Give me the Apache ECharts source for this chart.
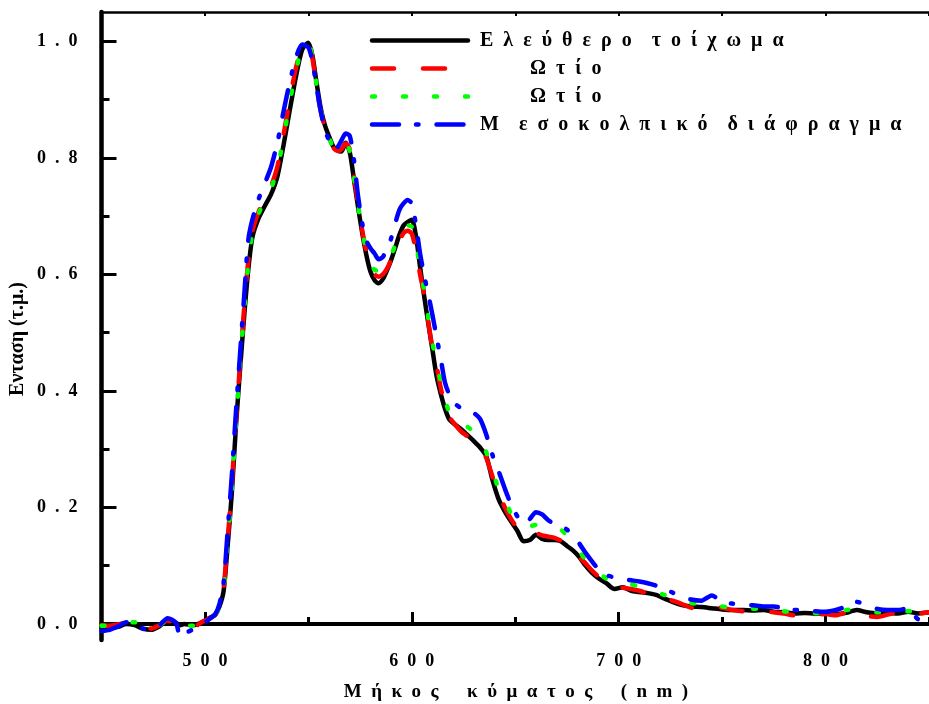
<!DOCTYPE html>
<html>
<head>
<meta charset="utf-8">
<script src="https://cdn.jsdelivr.net/npm/echarts@6/dist/echarts.min.js"></script>
<style>
  html, body { margin: 0; padding: 0; background: #ffffff; }
  #chart { width: 929px; height: 704px; }
</style>
</head>
<body>
<div id="chart"></div>
<script>
// Wavelength grid (nm) shared by the four emission spectra
const wavelength = [
  450,454,458,462,466,470,474,478,482,486,488,
  490,494,498,502,505,507,509,
  511,513,515,517,519,521,523,
  526,529,532,535,538,541,544,547,
  550,552,554,556,558,560,562,564,566,568,570,572,574,576,578,580,582,584,586,588,590,592,594,596,598,600,
  602,604,606,608,610,612,614,616,618,
  621,624,627,630,633,636,639,642,645,648,651,654,657,660,663,666,669,672,675,678,681,684,687,690,
  694,698,702,706,710,714,718,722,726,730,
  735,740,745,750,755,760,765,770,775,780,785,790,795,800,805,810,815,820,825,830,835,840,845,850
];

// Normalised intensity (a.u.) per tissue
const freeWall = [
  -0.005,-0.007,-0.005,0.000,-0.002,-0.008,-0.010,-0.004,0.006,0.002,-0.002,
  0.000,-0.002,0.002,0.010,0.016,0.030,0.056,
  0.135,0.225,0.340,0.438,0.530,0.610,0.665,
  0.697,0.718,0.738,0.768,0.822,0.882,0.940,0.986,
  0.998,0.975,0.928,0.885,0.856,0.837,0.820,0.813,0.811,0.826,0.810,0.764,0.716,0.672,0.634,0.605,0.590,0.585,0.592,0.607,0.625,0.646,0.668,0.684,0.690,0.694,
  0.666,0.613,0.562,0.515,0.470,0.425,0.395,0.370,0.352,
  0.342,0.334,0.324,0.314,0.303,0.288,0.247,0.214,0.193,0.176,0.160,0.142,0.144,0.153,0.146,0.144,0.144,0.142,0.134,0.126,0.115,0.100,0.088,0.079,
  0.070,0.060,0.063,0.057,0.055,0.053,0.050,0.044,0.038,0.033,
  0.030,0.029,0.027,0.025,0.024,0.024,0.023,0.024,0.021,0.020,0.018,0.019,0.018,0.018,0.017,0.019,0.024,0.020,0.018,0.019,0.018,0.021,0.018,0.020
];
const auricleA = [
  -0.002,-0.003,-0.001,0.003,0.004,-0.004,-0.008,-0.002,0.006,0.000,-0.002,
  -0.003,-0.006,0.002,0.009,0.016,0.032,0.062,
  0.145,0.240,0.350,0.448,0.545,0.625,0.675,
  0.708,0.730,0.752,0.785,0.840,0.900,0.955,0.990,
  0.996,0.970,0.920,0.880,0.852,0.832,0.818,0.812,0.815,0.825,0.815,0.770,0.722,0.676,0.640,0.612,0.600,0.596,0.600,0.610,0.625,0.642,0.658,0.671,0.675,0.670,
  0.640,0.600,0.565,0.518,0.472,0.442,0.405,0.375,0.356,
  0.342,0.330,0.322,0.312,0.303,0.285,0.253,0.225,0.200,0.180,0.165,0.156,0.155,0.156,0.152,0.150,0.148,0.143,0.137,0.128,0.115,0.104,0.092,0.082,
  0.073,0.066,0.062,0.060,0.057,0.052,0.046,0.045,0.040,0.035,
  0.028,0.026,0.030,0.028,0.024,0.022,0.024,0.022,0.020,0.018,0.015,0.017,0.016,0.017,0.015,0.020,0.022,0.014,0.012,0.016,0.020,0.017,0.018,0.020
];
const auricleB = [
  -0.003,-0.003,0.000,0.002,0.003,-0.005,-0.008,-0.002,0.006,0.002,-0.001,
  -0.002,-0.003,0.002,0.009,0.016,0.031,0.060,
  0.140,0.232,0.345,0.445,0.540,0.620,0.672,
  0.705,0.725,0.748,0.780,0.835,0.895,0.950,0.988,
  0.997,0.972,0.925,0.882,0.855,0.835,0.818,0.812,0.813,0.825,0.812,0.768,0.720,0.676,0.642,0.618,0.608,0.606,0.610,0.620,0.633,0.650,0.666,0.678,0.684,0.682,
  0.655,0.610,0.572,0.525,0.482,0.448,0.415,0.385,0.365,
  0.350,0.342,0.338,0.330,0.318,0.295,0.262,0.232,0.212,0.190,0.178,0.170,0.168,0.170,0.170,0.167,0.165,0.162,0.152,0.140,0.125,0.110,0.098,0.088,
  0.078,0.070,0.070,0.068,0.064,0.060,0.055,0.050,0.046,0.040,
  0.036,0.034,0.033,0.030,0.028,0.027,0.026,0.026,0.024,0.022,0.020,0.020,0.019,0.019,0.020,0.024,0.026,0.022,0.020,0.021,0.022,0.022,0.020,0.022
];
const septum = [
  -0.012,-0.010,-0.004,0.003,0.002,-0.008,-0.010,-0.002,0.010,0.002,-0.022,
  -0.016,-0.010,-0.002,0.008,0.017,0.034,0.070,
  0.160,0.255,0.365,0.465,0.565,0.660,0.695,
  0.730,0.757,0.785,0.826,0.880,0.930,0.972,0.995,
  0.990,0.965,0.920,0.880,0.848,0.830,0.815,0.818,0.830,0.842,0.838,0.797,0.735,0.688,0.658,0.645,0.636,0.626,0.630,0.645,0.662,0.688,0.711,0.722,0.728,0.722,
  0.685,0.636,0.598,0.565,0.530,0.492,0.455,0.415,0.395,
  0.378,0.370,0.366,0.362,0.352,0.325,0.290,0.262,0.232,0.205,0.185,0.172,0.180,0.192,0.188,0.178,0.172,0.168,0.162,0.152,0.138,0.122,0.108,0.095,
  0.084,0.080,0.077,0.075,0.073,0.070,0.066,0.060,0.054,0.048,
  0.042,0.040,0.049,0.038,0.035,0.033,0.032,0.030,0.030,0.027,0.024,0.024,0.022,0.021,0.024,0.030,0.038,0.032,0.026,0.024,0.024,0.027,0.008,0.012
];

// Tick positions
const xMajorTicks = [500, 600, 700, 800];
const xMinorTicks = [550, 650, 750, 850];
const xTopTicks = [500, 550, 600, 650, 700, 750, 800, 850];
const yMajorTicks = [0, 0.2, 0.4, 0.6, 0.8, 1.0];
const yMinorTicks = [0.1, 0.3, 0.5, 0.7, 0.9];

// Letter-spaced typesetting: en space between letters, wider gap between words
const EN = '\u2002';
const spaced = (s, wordGap) => s.split(' ').map(w => w.split('').join(EN)).join(EN.repeat(wordGap));

const seriesNames = [
  spaced('Ελεύθερο τοίχωμα', 2),
  EN.repeat(5) + spaced('Ωτίο', 2),
  EN.repeat(5) + spaced('Ωτίο', 2),
  spaced('Μ εσοκολπικό διάφραγμα', 2)
];
const seriesValues = [freeWall, auricleA, auricleB, septum];
const seriesColors = ['#000000', '#ff0000', '#00ff00', '#0000ff'];
const seriesDash = [null, [22, 29], [3, 28], [27, 17, 2.5, 18]];
const seriesWidth = [4.5, 4.5, 4.5, 4.5];

const FONT = "'Liberation Serif', 'Times New Roman', serif";
const X_MIN = 450, X_MAX = 850, Y_MIN = -0.0275, Y_MAX = 1.0506;

const chart = echarts.init(document.getElementById('chart'), null, { renderer: 'canvas' });

const baseX = { type: 'value', min: X_MIN, max: X_MAX, splitLine: { show: false } };
const baseY = { type: 'value', min: Y_MIN, max: Y_MAX, splitLine: { show: false } };

// Key: sample stroke plus caption for each spectrum
const keyItems = [];
seriesNames.forEach((name, k) => {
  const y = 40.5 + 28 * k;
  keyItems.push({
    type: 'line', z: 10,
    shape: { x1: 372, y1: y, x2: 468, y2: y },
    style: {
      stroke: seriesColors[k], lineWidth: seriesWidth[k],
      lineDash: seriesDash[k], lineCap: 'round'
    }
  });
  keyItems.push({
    type: 'text', z: 10, x: 480, y: y,
    style: {
      text: name, font: 'bold 20px ' + FONT, fill: '#000',
      align: 'left', verticalAlign: 'middle'
    }
  });
});

chart.setOption({
  animation: false,
  backgroundColor: '#ffffff',
  grid: { left: 101.5, right: -8.5, top: 12, bottom: 64, containLabel: false },
  xAxis: [
    Object.assign({}, baseX, {
      position: 'bottom',
      axisLine: { show: true, lineStyle: { color: '#000', width: 4 } },
      axisTick: { show: true, inside: true, length: 12, customValues: xMajorTicks, lineStyle: { color: '#000', width: 3 } },
      axisLabel: {
        customValues: xMajorTicks, margin: 12, color: '#000',
        fontFamily: FONT, fontWeight: 'bold', fontSize: 18,
        formatter: v => String(v).split('').join(EN)
      }
    }),
    Object.assign({}, baseX, {
      position: 'bottom',
      axisLine: { show: false },
      axisTick: { show: true, inside: true, length: 7, customValues: xMinorTicks, lineStyle: { color: '#000', width: 3 } },
      axisLabel: { show: false }
    }),
    Object.assign({}, baseX, {
      position: 'top',
      axisLine: { show: true, lineStyle: { color: '#000', width: 2.5 } },
      axisTick: { show: true, inside: true, length: 4, customValues: xTopTicks, lineStyle: { color: '#000', width: 2 } },
      axisLabel: { show: false }
    })
  ],
  yAxis: [
    Object.assign({}, baseY, {
      position: 'left',
      axisLine: { show: true, lineStyle: { color: '#000', width: 4.5 } },
      axisTick: { show: true, inside: true, length: 15, customValues: yMajorTicks, lineStyle: { color: '#000', width: 3 } },
      axisLabel: {
        customValues: yMajorTicks, margin: 24, color: '#000',
        fontFamily: FONT, fontWeight: 'bold', fontSize: 18,
        formatter: v => v.toFixed(1).split('').join(EN)
      }
    }),
    Object.assign({}, baseY, {
      position: 'left',
      axisLine: { show: false },
      axisTick: { show: true, inside: true, length: 8, customValues: yMinorTicks, lineStyle: { color: '#000', width: 3 } },
      axisLabel: { show: false }
    })
  ],
  graphic: keyItems.concat([
    {
      type: 'text', x: 516, y: 692,
      style: {
        text: spaced('Μήκος κύματος (nm)', 3),
        font: 'bold 19px ' + FONT, fill: '#000', align: 'center', verticalAlign: 'middle'
      }
    },
    {
      type: 'text', x: 18, y: 339, rotation: Math.PI / 2,
      style: {
        text: 'Ενταση (τ.μ.)',
        font: 'bold 20px ' + FONT, fill: '#000', align: 'center', verticalAlign: 'middle'
      }
    }
  ]),
  series: seriesNames.map((name, k) => ({
    name: name,
    type: 'line',
    xAxisIndex: 0,
    yAxisIndex: 0,
    showSymbol: false,
    symbol: 'none',
    smooth: 0.25,
    z: 2 + k,
    data: wavelength.map((w, i) => [w, seriesValues[k][i]]),
    lineStyle: {
      color: seriesColors[k], width: seriesWidth[k],
      type: seriesDash[k] || 'solid', cap: 'round', join: 'round'
    },
    itemStyle: { color: seriesColors[k] }
  }))
});
</script>
</body>
</html>
